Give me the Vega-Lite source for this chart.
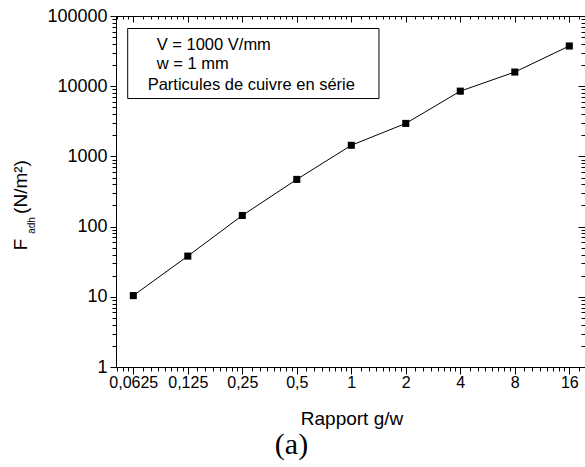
{
  "$schema": "https://vega.github.io/schema/vega-lite/v6.json",
  "width": 469,
  "height": 351,
  "autosize": {"type": "none"},
  "padding": {"left": 116, "top": 16, "right": 0, "bottom": 100},
  "background": "white",
  "config": {
    "view": {"stroke": null},
    "axis": {
      "grid": false,
      "domainColor": "black",
      "domainWidth": 1,
      "tickColor": "black",
      "tickWidth": 1,
      "labelColor": "black",
      "titleColor": "black",
      "labelFont": "Liberation Sans",
      "titleFont": "Liberation Sans",
      "titleFontWeight": "normal",
      "labelFontWeight": "normal",
      "labelOverlap": false,
      "labelFlush": false,
      "labelBound": false
    }
  },
  "data": {
    "values": [
      {"g": 0.0625, "F": 10.4},
      {"g": 0.125, "F": 38},
      {"g": 0.25, "F": 144},
      {"g": 0.5, "F": 470},
      {"g": 1, "F": 1440},
      {"g": 2, "F": 2950},
      {"g": 4, "F": 8500},
      {"g": 8, "F": 15900},
      {"g": 16, "F": 37400}
    ]
  },
  "resolve": {"axis": {"x": "independent", "y": "independent"}},
  "layer": [
    {
      "mark": {"type": "line", "color": "black", "strokeWidth": 1,
        "point": {"shape": "square", "size": 50, "filled": true, "color": "black", "opacity": 1}},
      "encoding": {
        "x": {"field": "g", "type": "quantitative",
          "scale": {"type": "log", "base": 2, "domain": [0.05016, 19.54], "nice": false, "zero": false},
          "axis": {"orient": "bottom", "values": [0.0625, 0.125, 0.25, 0.5, 1, 2, 4, 8, 16],
            "labelExpr": "replace(toString(datum.value), '.', ',')",
            "tickSize": 7, "labelPadding": 13, "labelBaseline": "alphabetic", "labelFontSize": 16,
            "title": "Rapport g/w", "titleFontSize": 19, "titleX": 235.5, "titleY": 57.2,
            "titleAlign": "center", "titleBaseline": "alphabetic"}},
        "y": {"field": "F", "type": "quantitative",
          "scale": {"type": "log", "domain": [1, 100000], "nice": false, "zero": false},
          "axis": {"orient": "left", "values": [1, 10, 100, 1000, 10000, 100000], "format": "d",
            "tickSize": 6, "labelPadding": 3, "labelFontSize": 18, "labelBaseline": "middle",
            "title": "F", "titleFontSize": 19, "titleAngle": -90, "titleX": -90, "titleY": 228,
            "titleAlign": "center", "titleBaseline": "alphabetic"}}
      }
    },
    {
      "mark": {"type": "point", "opacity": 0},
      "encoding": {
        "x": {"field": "g", "type": "quantitative",
          "axis": {"orient": "bottom", "domain": false, "labels": false, "tickSize": 4,
            "values": [0.05078125, 0.0546875, 0.05859375,
              0.0703125, 0.078125, 0.0859375, 0.09375, 0.1015625, 0.109375, 0.1171875,
              0.140625, 0.15625, 0.171875, 0.1875, 0.203125, 0.21875, 0.234375,
              0.28125, 0.3125, 0.34375, 0.375, 0.40625, 0.4375, 0.46875,
              0.5625, 0.625, 0.6875, 0.75, 0.8125, 0.875, 0.9375,
              1.125, 1.25, 1.375, 1.5, 1.625, 1.75, 1.875,
              2.25, 2.5, 2.75, 3, 3.25, 3.5, 3.75,
              4.5, 5, 5.5, 6, 6.5, 7, 7.5,
              9, 10, 11, 12, 13, 14, 15, 18],
            "title": "(a)", "titleFont": "Liberation Serif", "titleFontSize": 30,
            "titleX": 175, "titleY": 86.7, "titleAlign": "center", "titleBaseline": "alphabetic"}},
        "y": {"field": "F", "type": "quantitative",
          "axis": {"orient": "left", "domain": false, "labels": false, "tickSize": 4,
            "values": [2, 3, 4, 5, 6, 7, 8, 9, 20, 30, 40, 50, 60, 70, 80, 90,
              200, 300, 400, 500, 600, 700, 800, 900, 2000, 3000, 4000, 5000, 6000, 7000, 8000, 9000,
              20000, 30000, 40000, 50000, 60000, 70000, 80000, 90000],
            "title": "adh", "titleFontSize": 10, "titleAngle": -90, "titleX": -82, "titleY": 209,
            "titleAlign": "center", "titleBaseline": "alphabetic"}}
      }
    },
    {
      "mark": {"type": "point", "opacity": 0},
      "encoding": {
        "x": {"field": "g", "type": "quantitative",
          "axis": {"orient": "top", "labels": false, "tickSize": -6, "title": null,
            "values": [0.0625, 0.125, 0.25, 0.5, 1, 2, 4, 8, 16]}},
        "y": {"field": "F", "type": "quantitative",
          "axis": {"orient": "right", "labels": false, "tickSize": -7,
            "values": [1, 10, 100, 1000, 10000, 100000],
            "title": "(N/m²)", "titleFontSize": 19, "titleAngle": -90, "titleX": -559, "titleY": 170.5,
            "titleAlign": "center", "titleBaseline": "alphabetic"}}
      }
    },
    {
      "mark": {"type": "point", "opacity": 0},
      "encoding": {
        "x": {"field": "g", "type": "quantitative",
          "axis": {"orient": "top", "domain": false, "labels": false, "tickSize": -3, "title": null,
            "values": [0.05078125, 0.0546875, 0.05859375,
              0.0703125, 0.078125, 0.0859375, 0.09375, 0.1015625, 0.109375, 0.1171875,
              0.140625, 0.15625, 0.171875, 0.1875, 0.203125, 0.21875, 0.234375,
              0.28125, 0.3125, 0.34375, 0.375, 0.40625, 0.4375, 0.46875,
              0.5625, 0.625, 0.6875, 0.75, 0.8125, 0.875, 0.9375,
              1.125, 1.25, 1.375, 1.5, 1.625, 1.75, 1.875,
              2.25, 2.5, 2.75, 3, 3.25, 3.5, 3.75,
              4.5, 5, 5.5, 6, 6.5, 7, 7.5,
              9, 10, 11, 12, 13, 14, 15, 18]}},
        "y": {"field": "F", "type": "quantitative",
          "axis": {"orient": "right", "domain": false, "labels": false, "tickSize": -4, "title": null,
            "values": [2, 3, 4, 5, 6, 7, 8, 9, 20, 30, 40, 50, 60, 70, 80, 90,
              200, 300, 400, 500, 600, 700, 800, 900, 2000, 3000, 4000, 5000, 6000, 7000, 8000, 9000,
              20000, 30000, 40000, 50000, 60000, 70000, 80000, 90000]}}
      }
    },
    {
      "data": {"values": [{}]},
      "mark": {"type": "rect", "filled": false, "stroke": "black", "strokeWidth": 1},
      "encoding": {
        "x": {"datum": 0.05821, "type": "quantitative", "axis": null},
        "x2": {"datum": 1.422},
        "y": {"datum": 66350, "type": "quantitative", "axis": null},
        "y2": {"datum": 6670}
      }
    },
    {
      "data": {"values": [{}]},
      "mark": {"type": "text", "text": "V = 1000 V/mm", "align": "left", "baseline": "alphabetic",
        "font": "Liberation Sans", "fontSize": 16.5, "fill": "black"},
      "encoding": {
        "x": {"datum": 0.08416, "type": "quantitative", "axis": null},
        "y": {"datum": 33310, "type": "quantitative", "axis": null}
      }
    },
    {
      "data": {"values": [{}]},
      "mark": {"type": "text", "text": "w = 1 mm", "align": "left", "baseline": "alphabetic",
        "font": "Liberation Sans", "fontSize": 16.5, "fill": "black"},
      "encoding": {
        "x": {"datum": 0.08416, "type": "quantitative", "axis": null},
        "y": {"datum": 17850, "type": "quantitative", "axis": null}
      }
    },
    {
      "data": {"values": [{}]},
      "mark": {"type": "text", "text": "Particules de cuivre en série", "align": "left", "baseline": "alphabetic",
        "font": "Liberation Sans", "fontSize": 16.5, "fill": "black"},
      "encoding": {
        "x": {"datum": 0.07506, "type": "quantitative", "axis": null},
        "y": {"datum": 8963, "type": "quantitative", "axis": null}
      }
    }
  ]
}
